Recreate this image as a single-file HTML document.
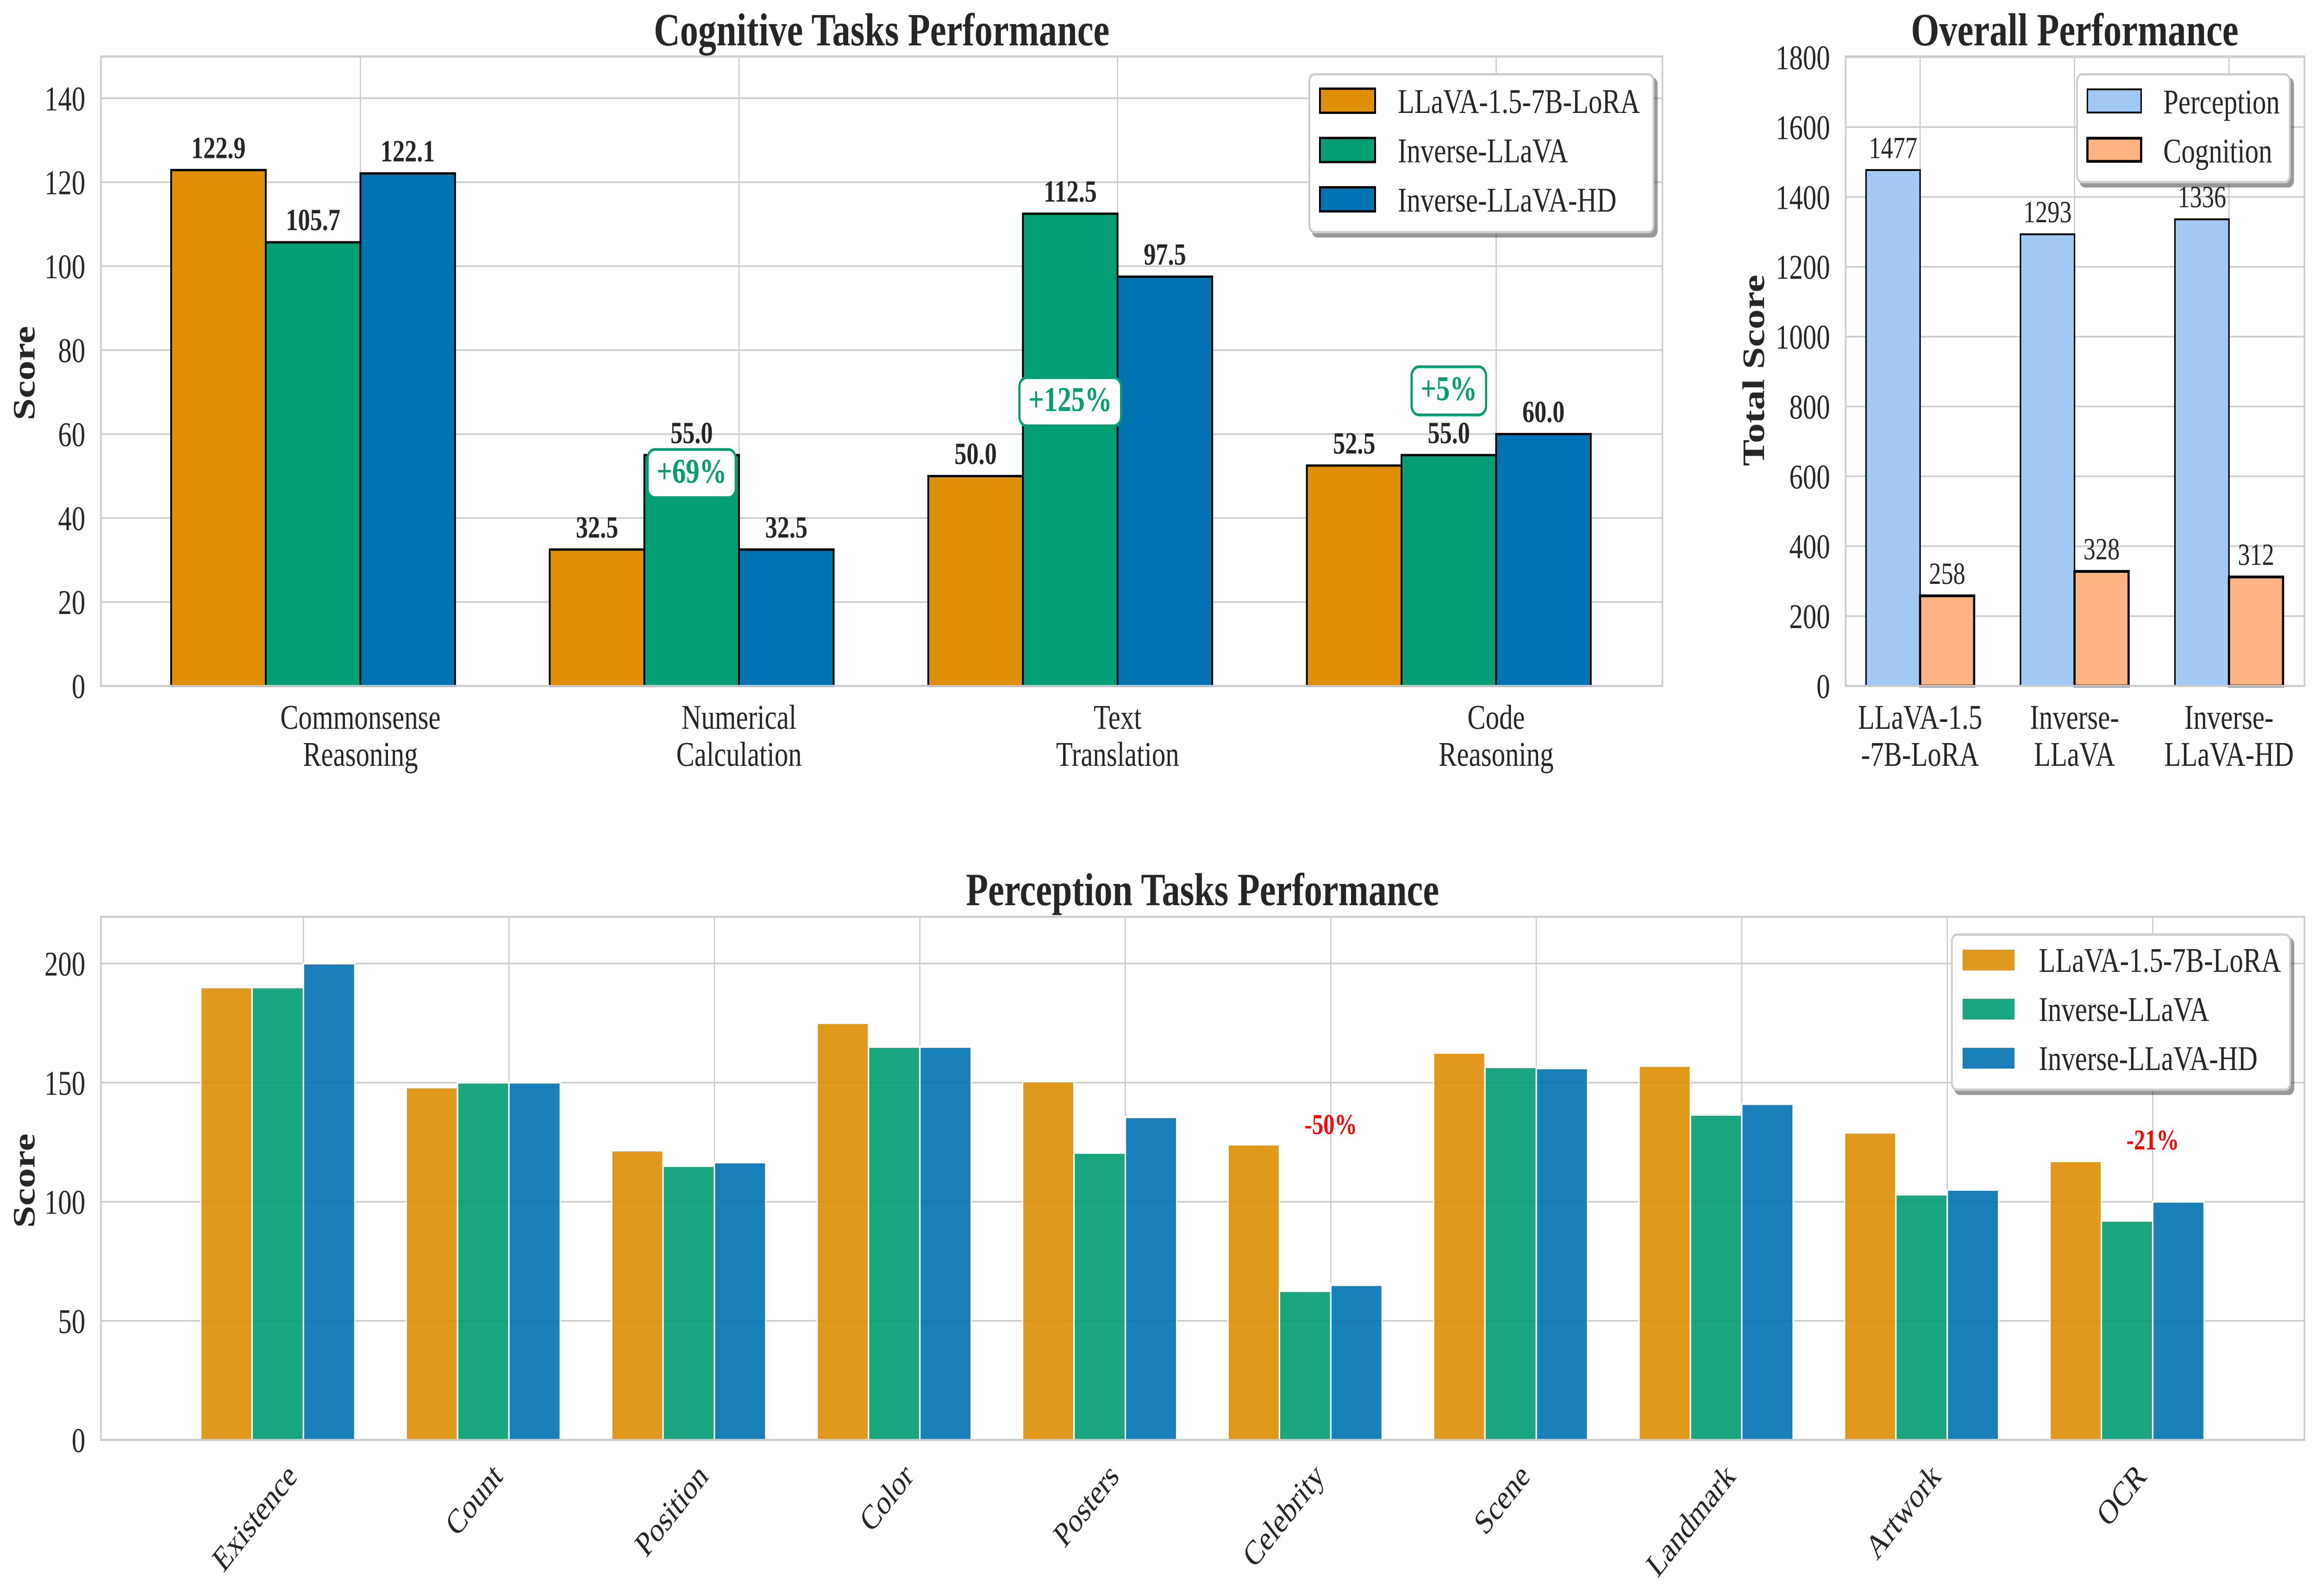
<!DOCTYPE html>
<html lang="en">
<head>
<meta charset="utf-8">
<title>Cognitive, Overall and Perception Task Performance</title>
<style>
html,body{margin:0;padding:0;background:#fff;width:100%;height:100%;overflow:hidden}
svg{display:block;width:100%;height:100%}
text{font-family:"Liberation Serif","Times New Roman",serif;fill:#262626;text-rendering:geometricPrecision}
</style>
</head>
<body>
<svg id="figure" xmlns="http://www.w3.org/2000/svg" viewBox="0 0 6378 3447" preserveAspectRatio="none"></svg>
<script>
const seriesNames = ['LLaVA-1.5-7B-LoRA', 'Inverse-LLaVA', 'Inverse-LLaVA-HD'];
const overallSeriesNames = ['Perception', 'Cognition'];

const cognitiveCategories = [['Commonsense', 'Reasoning'], ['Numerical', 'Calculation'], ['Text', 'Translation'], ['Code', 'Reasoning']];
const cognitiveBase = [122.9, 32.5, 50.0, 52.5];
const cognitiveInverse = [105.7, 55.0, 112.5, 55.0];
const cognitiveInverseHD = [122.1, 32.5, 97.5, 60.0];
const cognitiveTicks = [0, 20, 40, 60, 80, 100, 120, 140];
const badgeCategoryIndex = [1, 2, 3];
const badgeLabels = ['+69%', '+125%', '+5%'];
const badgeValues = [48.4, 65.5, 68.1];

const overallCategories = [['LLaVA-1.5', '-7B-LoRA'], ['Inverse-', 'LLaVA'], ['Inverse-', 'LLaVA-HD']];
const overallPerception = [1477, 1293, 1336];
const overallCognition = [258, 328, 312];
const overallTicks = [0, 200, 400, 600, 800, 1000, 1200, 1400, 1600, 1800];

const perceptionCategories = ['Existence', 'Count', 'Position', 'Color', 'Posters', 'Celebrity', 'Scene', 'Landmark', 'Artwork', 'OCR'];
const perceptionBase = [190, 148, 121.5, 175, 150.5, 124, 162.5, 157, 129, 117];
const perceptionInverse = [190, 150, 115, 165, 120.5, 62.5, 156.5, 136.5, 103, 92];
const perceptionInverseHD = [200, 150, 116.5, 165, 135.5, 65, 156, 141, 105, 100];
const perceptionTicks = [0, 50, 100, 150, 200];
const dropCategoryIndex = [5, 9];
const dropLabels = ['-50%', '-21%'];
const dropValues = [128.5, 122];

const colors = ['#DE8F05', '#029E73', '#0173B2'];
const overallColors = ['#A1C9F4', '#FFB482'];
const gridColor = '#cccccc';
const NS = 'http://www.w3.org/2000/svg';
const fig = document.getElementById('figure');

function node(tag, props, parent) {
  const el = document.createElementNS(NS, tag);
  for (const k in props) el.setAttribute(k, props[k]);
  (parent || fig).appendChild(el);
  return el;
}
function label(parent, x, y, str, size, opts) {
  const o = opts || {};
  const t = node('text', { x: x, y: y, 'font-size': size, 'text-anchor': o.anchor || 'middle' }, parent);
  if (o.bold) t.setAttribute('font-weight', 'bold');
  if (o.fill) t.style.fill = o.fill;
  if (o.transform) t.setAttribute('transform', o.transform);
  t.textContent = str;
  return t;
}

/* axis functions */
const cogX = i => 993 + 1043 * i;
const cogY = v => 1481.5 - v * 9.066;
const ovX = i => 5290 + 425.5 * i;
const ovY = v => 1481.5 - v * 0.7544;
const perX = i => 836 + 566.1 * i;
const perY = v => 3110 - v * 5.145;

const TICK = 75, LEGEND = 75, VALUE = 66.7, TITLE = 100, YLAB = 86;

function frame(name, left, top, right, bottom) {
  const g = node('g', {});
  
  
  return { g, left, top, right, bottom };
}
function grid(ax, ticks, yFn, xs, tickNamePrefix) {
  const gg = node('g', { stroke: gridColor, 'stroke-width': 3.4 }, ax.g);
  
  
  ticks.forEach(v => {
    const l = node('line', { x1: ax.left, x2: ax.right, y1: yFn(v), y2: yFn(v) }, gg);
    
    
  });
  xs.forEach(x => {
    const l = node('line', { x1: x, x2: x, y1: ax.top, y2: ax.bottom }, gg);
    
    
  });
}
function yTicks(ax, ticks, yFn) {
  ticks.forEach(v => {
    const t = label(ax.g, ax.left - 43, yFn(v) + 26, String(v), TICK, { anchor: 'end' });
    
    
  });
}
function spines(ax) {
  const r = node('rect', { x: ax.left, y: ax.top, width: ax.right - ax.left, height: ax.bottom - ax.top, fill: 'none', stroke: gridColor, 'stroke-width': 4.6 }, ax.g);
  
  
}
function bar(parent, x0, x1, y0, y1, fill, stroke, sw, opacity) {
  const r = node('rect', { x: x0, y: y1, width: x1 - x0, height: y0 - y1, fill: fill, stroke: stroke, 'stroke-width': sw }, parent);
  if (opacity) r.setAttribute('opacity', opacity);
  
  
  return r;
}
function legend(parent, box, entries) {
  const g = node('g', {}, parent);
  
  
  const shadow = node('rect', { x: box.l + 9, y: box.t + 9, width: box.r - box.l, height: box.b - box.t, rx: 15, fill: '#000', 'fill-opacity': 0.4 }, g);
  
  
  const bg = node('rect', { x: box.l + 2.5, y: box.t + 2.5, width: box.r - box.l - 5, height: box.b - box.t - 5, rx: 14, fill: '#fff', stroke: gridColor, 'stroke-width': 5 }, g);
  
  
  entries.forEach(e => {
    const p = node('rect', { x: e.x, y: e.y, width: e.w, height: e.h, fill: e.fill, stroke: e.stroke, 'stroke-width': e.sw }, g);
    if (e.opacity) p.setAttribute('opacity', e.opacity);
    
    
    const t = label(g, e.tx, e.ty, e.text, LEGEND, { anchor: 'start' });
    
    
  });
}

/* ---------- Cognitive Tasks ---------- */
const ax1 = frame('cognitive-tasks-chart', 278, 122, 4580, 1481.5);
grid(ax1, cognitiveTicks, cogY, cognitiveCategories.map((c, i) => cogX(i)), 'cognitive');
[cognitiveBase, cognitiveInverse, cognitiveInverseHD].forEach((vals, s) => {
  vals.forEach((v, i) => {
    const x0 = cogX(i + (s - 2) * 0.25);
    const x1 = cogX(i + (s - 1) * 0.25);
    bar(ax1.g, x0, x1, cogY(0), cogY(v), colors[s], '#000', 5);
  });
});
spines(ax1);
yTicks(ax1, cognitiveTicks, cogY);
cognitiveCategories.forEach((lines, i) => {
  lines.forEach((str, j) => {
    const t = label(ax1.g, cogX(i), 1574 + 80 * j, str, TICK);
    
    
  });
});
[cognitiveBase, cognitiveInverse, cognitiveInverseHD].forEach((vals, s) => {
  vals.forEach((v, i) => {
    const t = label(ax1.g, cogX(i + (s - 1.5) * 0.25), cogY(v) - 26, v.toFixed(1), VALUE, { bold: true });
    
    
  });
});
badgeLabels.forEach((str, k) => {
  const cx = cogX(badgeCategoryIndex[k] - 0.125);
  const by = cogY(badgeValues[k]);
  const g = node('g', {}, ax1.g);
  
  
  const box = node('rect', { y: by - 72, height: 104, rx: 20, fill: '#fff', stroke: colors[1], 'stroke-width': 6 }, g);
  const t = label(g, cx, by, str, 75, { bold: true, fill: colors[1] });
  const w = t.getComputedTextLength() + 50;
  box.setAttribute('x', cx - w / 2);
  box.setAttribute('width', w);
});
const legend1 = seriesNames.map((n, i) => ({
  x: 3636.5, y: 191.5 + 106.5 * i, w: 152, h: 52, fill: colors[i], stroke: '#000', sw: 5,
  tx: 3851, ty: 244 + 106.5 * i, text: n
}));
legend(ax1.g, { l: 3605, t: 158, r: 4558, b: 504 }, legend1);
const t1 = label(ax1.g, (278 + 4580) / 2, 98, 'Cognitive Tasks Performance', TITLE, { bold: true });


const y1 = label(ax1.g, 0, 0, 'Score', YLAB, { bold: true, transform: 'translate(95 806) rotate(-90)' });



/* ---------- Overall ---------- */
const ax2 = frame('overall-performance-chart', 5085, 122, 6349, 1481.5);
grid(ax2, overallTicks, ovY, overallCategories.map((c, i) => ovX(i)), 'overall');
overallPerception.forEach((v, i) => {
  bar(ax2.g, ovX(i - 0.35), ovX(i), ovY(0), ovY(v), overallColors[0], '#000', 4);
});
overallCognition.forEach((v, i) => {
  bar(ax2.g, ovX(i), ovX(i + 0.35), ovY(0), ovY(v), overallColors[1], '#000', 6);
});
spines(ax2);
yTicks(ax2, overallTicks, ovY);
overallCategories.forEach((lines, i) => {
  lines.forEach((str, j) => {
    const t = label(ax2.g, ovX(i), 1574 + 80 * j, str, TICK);
    
    
  });
});
overallPerception.forEach((v, i) => {
  const t = label(ax2.g, ovX(i - 0.175), ovY(v) - 26, String(v), VALUE);
  
  
});
overallCognition.forEach((v, i) => {
  const t = label(ax2.g, ovX(i + 0.175), ovY(v) - 26, String(v), VALUE);
  
  
});
const legend2 = overallSeriesNames.map((n, i) => ({
  x: 5751, y: 193 + 105.5 * i, w: 148, h: 50, fill: overallColors[i], stroke: '#000', sw: i ? 6 : 4,
  tx: 5960, ty: 245 + 106 * i, text: n
}));
legend(ax2.g, { l: 5720, t: 158, r: 6311, b: 396 }, legend2);
const t2 = label(ax2.g, 5716, 98, 'Overall Performance', TITLE, { bold: true });


const y2 = label(ax2.g, 0, 0, 'Total Score', YLAB, { bold: true, transform: 'translate(4860 800) rotate(-90)' });



/* ---------- Perception Tasks ---------- */
const ax3 = frame('perception-tasks-chart', 278, 1980, 6349, 3110);
grid(ax3, perceptionTicks, perY, perceptionCategories.map((c, i) => perX(i)), 'perception');
[perceptionBase, perceptionInverse, perceptionInverseHD].forEach((vals, s) => {
  vals.forEach((v, i) => {
    const x0 = perX(i + (s - 2) * 0.25);
    const x1 = perX(i + (s - 1) * 0.25);
    bar(ax3.g, x0, x1, perY(0), perY(v), colors[s], '#fff', 4, 0.9);
  });
});
spines(ax3);
yTicks(ax3, perceptionTicks, perY);
perceptionCategories.forEach((str, i) => {
  const ax = perX(i) - 14, ay = 3192;
  const t = label(ax3.g, 0, 0, str, TICK, { anchor: 'end', transform: 'translate(' + ax + ' ' + ay + ') rotate(-45)' });
  
  
});
dropLabels.forEach((str, k) => {
  const t = label(ax3.g, perX(dropCategoryIndex[k]), perY(dropValues[k]), str, 62, { bold: true, fill: '#ff0000' });
  
  
});
const legend3 = seriesNames.map((n, i) => ({
  x: 5405, y: 2049 + 106 * i, w: 147, h: 49, fill: colors[i], stroke: '#fff', sw: 4, opacity: 0.9,
  tx: 5617, ty: 2099 + 106 * i, text: n
}));
legend(ax3.g, { l: 5375, t: 2016, r: 6312, b: 2356 }, legend3);
const t3 = label(ax3.g, 3313, 1955, 'Perception Tasks Performance', TITLE, { bold: true });


const y3 = label(ax3.g, 0, 0, 'Score', YLAB, { bold: true, transform: 'translate(95 2550) rotate(-90)' });


</script>
</body>
</html>
